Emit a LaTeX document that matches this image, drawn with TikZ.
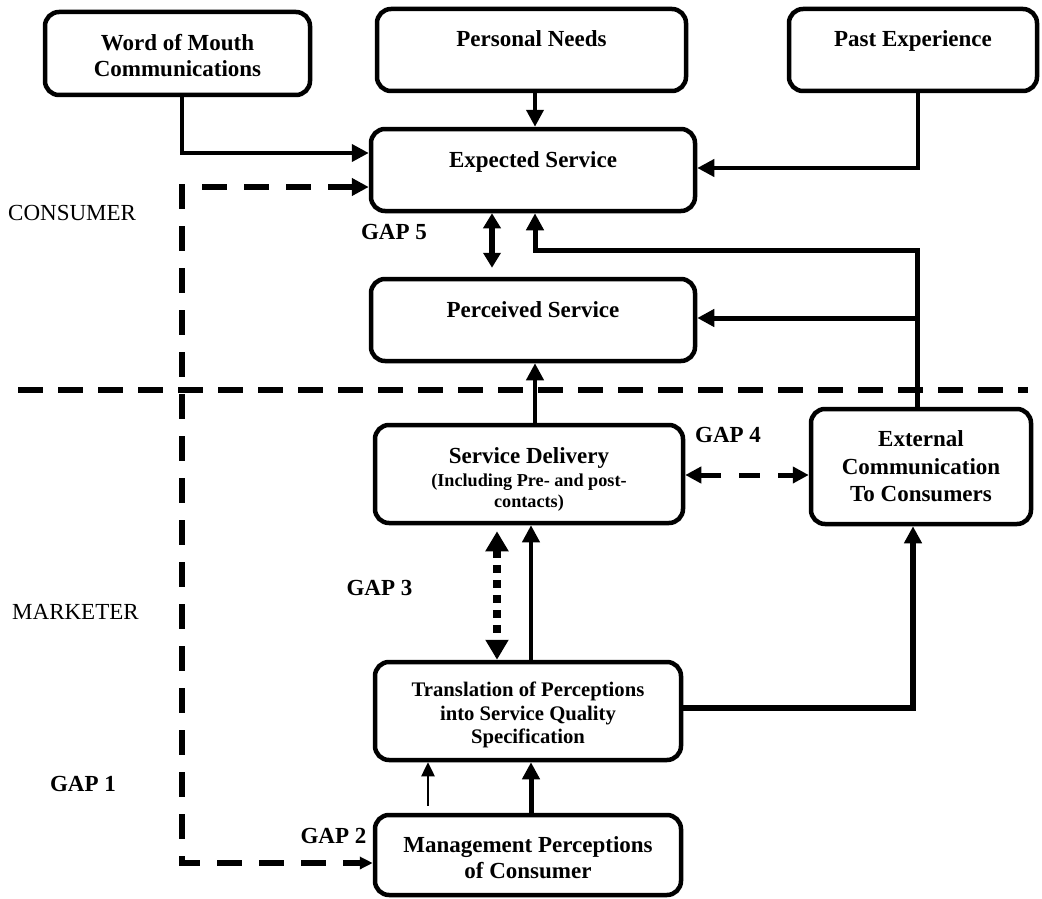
\documentclass[tikz,border=0pt]{standalone}
\usepackage{fontspec}
\setmainfont{Liberation Serif}
\usetikzlibrary{arrows.meta,calc}
\newcommand{\upstrut}[1]{\rule{0pt}{#1pt}}
\newcommand{\subf}{\fontsize{18.2}{22}\selectfont}
\begin{document}
\begin{tikzpicture}[x=1pt,y=-1pt,
  box/.style={draw, line width=4.5pt, rounded corners=14pt, inner sep=0pt, align=center,
    font=\fontsize{23}{26}\selectfont\bfseries},
  lbl/.style={inner sep=0pt, font=\fontsize{23}{26}\selectfont\bfseries},
  side/.style={inner sep=0pt, anchor=west, font=\fontsize{23}{26}\selectfont},
  arr/.style={line width=4pt, -{Triangle[length=17pt,width=17pt]}},
  arrthick/.style={line width=6pt, -{Triangle[length=17pt,width=17pt]}},
  thinarr/.style={line width=2.5pt, -{Triangle[length=14pt,width=13pt]}},
  gapfive/.style={line width=6pt, {Triangle[length=15pt,width=17pt]}-{Triangle[length=15pt,width=17pt]}},
  gapfour/.style={line width=5pt, dash pattern=on 21pt off 18pt, {Triangle[length=16pt,width=16pt]}-{Triangle[length=16pt,width=16pt]}},
  gapthree/.style={line width=8pt, dash pattern=on 8pt off 7pt, {Triangle[length=20pt,width=22pt]}-{Triangle[length=20pt,width=22pt]}},
  gapone/.style={line width=5.5pt, dash pattern=on 25pt off 17pt, {Triangle[length=17pt,width=17pt]}-{Triangle[length=13pt,width=12pt]}},
  divider/.style={line width=6pt, dash pattern=on 25pt off 15pt}
]
\useasboundingbox (0,0) rectangle (1042,899);
\fill[white] (0,0) rectangle (1042,899);

% boxes
\node[box, minimum width=265pt, minimum height=83pt] (wom) at (177.5,53.5) {\upstrut{20}Word of Mouth\\Communications};
\node[box, minimum width=309pt, minimum height=82pt] (pn) at (531.5,50) {\upstrut{20}Personal Needs\\\mbox{}};
\node[box, minimum width=248pt, minimum height=82pt] (pe) at (913,50) {\upstrut{20}Past Experience\\\mbox{}};
\node[box, minimum width=324pt, minimum height=82pt] (exp) at (533,170) {\upstrut{20}Expected Service\\\mbox{}};
\node[box, minimum width=324pt, minimum height=82pt] (per) at (533,320) {\upstrut{20}Perceived Service\\\mbox{}};
\node[box, minimum width=308pt, minimum height=98pt] (sd) at (529,474)
  {\upstrut{26}Service Delivery\\[-3pt]\subf(Including Pre- and post-\\[-5pt]\subf contacts)};
\node[box, minimum width=220pt, minimum height=115pt, font=\fontsize{23}{27.5}\selectfont\bfseries] (ext) at (921,466.5)
  {External\\Communication\\To Consumers};
\node[box, minimum width=306pt, minimum height=98pt, font=\fontsize{20.7}{23.5}\selectfont\bfseries] (tr) at (528,711)
  {\upstrut{23}Translation of Perceptions\\into Service Quality\\Specification};
\node[box, minimum width=306pt, minimum height=80pt] (mg) at (528,855) {\upstrut{22}Management Perceptions\\of Consumer};

% side labels
\node[side] (cons) at (8,213) {CONSUMER};
\node[side] (mark) at (12,612) {MARKETER};
\node[lbl] (g1) at (83,784) {GAP 1};
\node[lbl] (g2) at (333.5,836) {GAP 2};
\node[lbl] (g3) at (379.5,588) {GAP 3};
\node[lbl] (g4) at (728,435) {GAP 4};
\node[lbl] (g5) at (394,232) {GAP 5};

% divider
\draw[divider] (18,390) -- (1028,390);

% helper coordinates
\coordinate (c1) at (182,500);
\coordinate (j1) at (917,250);
\coordinate (j2) at (917,318);

% connectors
\draw[arr] ([xshift=4.5pt]wom.south) |- ([yshift=17pt]exp.west);
\draw[gapone] ([yshift=-17pt]exp.west) -| (c1) |- ([yshift=-8pt]mg.west);
\draw[arr] ([xshift=3.5pt]pn.south) -- ([xshift=2pt]exp.north);
\draw[arr] ([xshift=5pt]pe.south) |- ([yshift=2pt]exp.east);
\draw[arr, line width=5pt] ([xshift=-4pt]ext.north) -- (j1) -| ([xshift=2pt]exp.south);
\draw[arr, line width=5pt] (j2) -- (j2 -| per.east);
\draw[gapfive, shorten >=9pt] ([xshift=-41pt]exp.south) -- ([xshift=-41pt]per.north);
\draw[arr] ([xshift=6pt]sd.north) -- ([xshift=2pt]per.south);
\draw[gapfour] ([yshift=-1pt]sd.east) -- ([yshift=-1pt]sd.east -| ext.west);
\draw[gapthree, shorten <=6pt] ([xshift=-32pt]sd.south) -- ([xshift=-31pt]tr.north);
\draw[arr] ([xshift=3pt]tr.north) -- ([xshift=2pt]sd.south);
\draw[arrthick] ([yshift=3pt]tr.east) -| ([xshift=-8pt]ext.south);
\draw[thinarr, shorten <=7pt] ([xshift=-100pt]mg.north) -- ([xshift=-100pt]tr.south);
\draw[arr, line width=5pt] ([xshift=3pt]mg.north) -- ([xshift=3pt]tr.south);
\end{tikzpicture}
\end{document}
